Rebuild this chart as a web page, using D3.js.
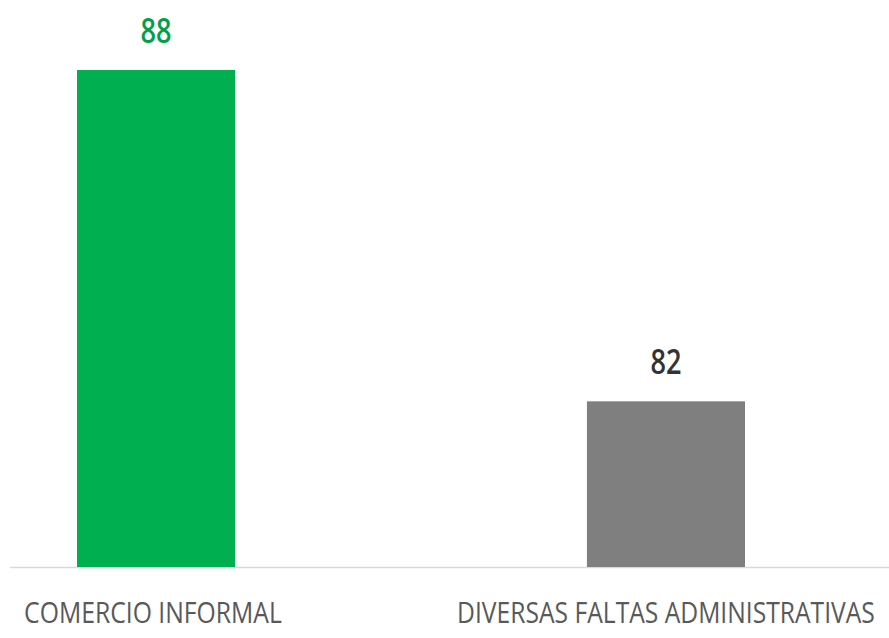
<!DOCTYPE html>
<html>
<head>
<meta charset="utf-8">
<script src="https://cdn.jsdelivr.net/npm/d3@7"></script>
<style>
  html, body { margin: 0; padding: 0; background: #ffffff; }
  svg { display: block; }
</style>
</head>
<body>
<script>
const categories = ["COMERCIO INFORMAL", "DIVERSAS FALTAS ADMINISTRATIVAS"];
const values = [88, 82];
const barColors = ["#00b050", "#7f7f7f"];
const labelColors = ["#00a04a", "#333333"];
const yDomain = [79, 88];

const W = 889, H = 638;
const svg = d3.select("body").append("svg").attr("width", W).attr("height", H);

const x = d3.scaleBand().domain(categories).range([0, 822]).paddingInner(0.69).paddingOuter(0.151);
const y = d3.scaleLinear().domain(yDomain).range([567, 70]);

// baseline
svg.append("line")
  .attr("x1", 10).attr("x2", W)
  .attr("y1", y(yDomain[0]) + 0.5).attr("y2", y(yDomain[0]) + 0.5)
  .attr("stroke", "#d9d9d9").attr("stroke-width", 1.5);

// bars
svg.selectAll("rect.bar").data(categories).enter().append("rect")
  .attr("class", "bar")
  .attr("x", d => x(d))
  .attr("width", x.bandwidth())
  .attr("y", (d, i) => y(values[i]))
  .attr("height", (d, i) => y(yDomain[0]) - y(values[i]))
  .attr("fill", (d, i) => barColors[i]);

// helper: horizontally condensed text via transform
function condensed(sel, cx, cy, targetW) {
  const natural = sel.node().getComputedTextLength();
  const sx = targetW / natural;
  sel.attr("text-anchor", "middle")
     .attr("transform", `translate(${cx},${cy}) scale(${sx},1)`);
}

// value labels
categories.forEach((d, i) => {
  const t = svg.append("text")
    .attr("class", "val")
    .attr("font-family", "'Open Sans', 'DejaVu Sans', sans-serif")
    .attr("font-size", 34)
    .attr("font-weight", 600)
    .attr("fill", labelColors[i])
    .text(values[i]);
  condensed(t, x(d) + x.bandwidth() / 2, y(values[i]) - 27, 31);
});

// category labels
const catWidths = [258, 418];
categories.forEach((d, i) => {
  const t = svg.append("text")
    .attr("class", "cat")
    .attr("font-family", "'Open Sans', 'DejaVu Sans', sans-serif")
    .attr("font-size", 29)
    .attr("fill", "#595959")
    .text(d);
  condensed(t, i === 0 ? 153 : x(d) + x.bandwidth() / 2, 623, catWidths[i]);
});
</script>
</body>
</html>
